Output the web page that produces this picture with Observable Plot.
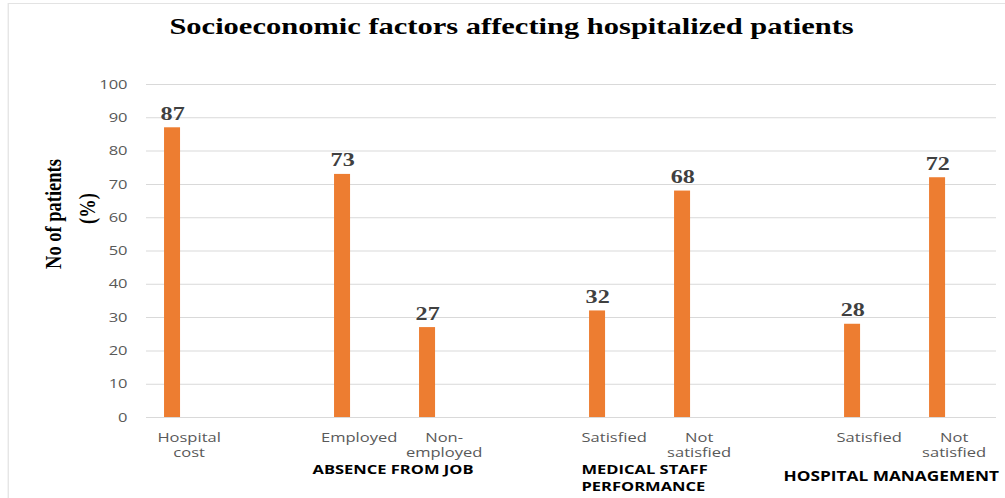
<!DOCTYPE html>
<html>
<head>
<meta charset="utf-8">
<script src="https://cdn.jsdelivr.net/npm/d3@7"></script>
<script src="https://cdn.jsdelivr.net/npm/@observablehq/plot@0.6"></script>
<style>
  html, body { margin: 0; padding: 0; background: #fff; overflow: hidden; }
  #wrap { position: absolute; left: 0; top: 0; width: 791px; height: 498px;
          transform: scaleX(1.2706); transform-origin: 0 0; }
  #frame { position: absolute; left: 6.3px; top: 3px; width: 800px; height: 600px;
           border: 1px solid #e3e3e3; box-sizing: border-box; }
  #chart { position: absolute; left: 0; top: 0; }
</style>
</head>
<body>
<div id="wrap"><div id="frame"></div><div id="chart"></div></div>
<script>
// ---- data ----
const keys = ["hc", "gap1", "emp", "nonemp", "gap2", "msSat", "msNot", "gap3", "hmSat", "hmNot"];
const tickLabels = ["Hospital\ncost", "", "Employed", "Non-\nemployed", "", "Satisfied", "Not\nsatisfied", "", "Satisfied", "Not\nsatisfied"];
const values = [87, null, 73, 27, null, 32, 68, null, 28, 72];
const yTicks = [0, 10, 20, 30, 40, 50, 60, 70, 80, 90, 100];
const groupNames = ["ABSENCE FROM JOB", "MEDICAL STAFF\nPERFORMANCE", "HOSPITAL MANAGEMENT"];
const groupMembers = [["emp", "nonemp"], ["msSat", "msNot"], ["hmSat", "hmNot"]];
const titleText = "Socioeconomic factors affecting hospitalized patients";
const yLabelLines = ["No of patients", "(%)"];

const S = 1.2706; // horizontal stretch of the reference
const W = 791;
const data = keys.map((k, i) => ({key: k, value: values[i]})).filter(d => d.value != null);
const labelOf = new Map(keys.map((k, i) => [k, tickLabels[i]]));

const serif = "'Liberation Serif', 'Times New Roman', serif";
const sans = "'Open Sans', sans-serif";

const plot = Plot.plot({
  width: W,
  height: 498,
  marginLeft: 114.9,
  marginRight: 7.1,
  marginTop: 84,
  marginBottom: 81,
  style: {background: "transparent", overflow: "visible"},
  x: {domain: keys, padding: 0, round: false, axis: null},
  y: {domain: [0, 100], axis: null},
  marks: [
    Plot.gridY(yTicks, {stroke: "#d9d9d9", strokeOpacity: 1}),
    Plot.axisY(yTicks, {tickSize: 0, tickPadding: 15, fontSize: 13, fontFamily: sans, fill: "#595959", label: null}),
    Plot.axisX({tickSize: 0, tickPadding: 13, fontSize: 13, fontFamily: sans, fill: "#595959",
                lineHeight: 1.2, label: null, tickFormat: k => labelOf.get(k)}),
    Plot.barY(data, {x: "key", y: "value", fill: "#ED7D31", insetLeft: 14.2, insetRight: 40.1}),
    Plot.text(data, {x: "key", y: "value", text: d => String(d.value), dx: -12.95, dy: -8,
                     lineAnchor: "bottom", fontFamily: serif, fontWeight: "bold", fontSize: 19, fill: "#404040"})
  ]
});

document.getElementById("chart").appendChild(plot);

const svg = d3.select(plot);
const xs = plot.scale("x");
const center = k => xs.apply(k) + xs.bandwidth / 2;

// title
svg.append("text")
  .attr("x", 402.6).attr("y", 34)
  .attr("text-anchor", "middle")
  .attr("font-family", serif).attr("font-weight", "bold").attr("font-size", 24)
  .attr("fill", "#000")
  .text(titleText);

// y axis title (two lines, rotated)
const yl = [[41.7, 214], [68.5, 208.5]];
yLabelLines.forEach((t, i) => {
  svg.append("text")
    .attr("transform", `translate(${yl[i][0]},${yl[i][1]}) rotate(-90)`)
    .attr("text-anchor", "middle").attr("dominant-baseline", "central")
    .attr("font-family", serif).attr("font-weight", "bold").attr("font-size", 18.5)
    .attr("fill", "#000")
    .text(t);
});

// group labels
const groupPlace = [
  {dx: -8 / S, anchor: "middle", y: 469, size: 13},
  {dx: -74.5 / S, anchor: "start", y: 469, size: 13},
  {dx: -127.5 / S, anchor: "start", y: 476, size: 13.6}
];
groupNames.forEach((name, i) => {
  const mid = (center(groupMembers[i][0]) + center(groupMembers[i][1])) / 2;
  const p = groupPlace[i];
  const t = svg.append("text")
    .attr("x", mid + p.dx).attr("y", p.y)
    .attr("text-anchor", p.anchor).attr("dominant-baseline", "central")
    .attr("font-family", sans).attr("font-weight", "bold").attr("font-size", p.size)
    .attr("fill", "#000");
  name.split("\n").forEach((line, j) => {
    t.append("tspan").attr("x", mid + p.dx).attr("dy", j === 0 ? 0 : 17).text(line);
  });
});
</script>
</body>
</html>
